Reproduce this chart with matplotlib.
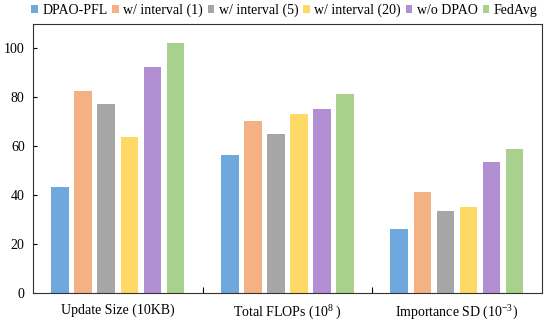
import matplotlib
matplotlib.use("Agg")
import matplotlib.pyplot as plt
import numpy as np
from matplotlib import rcParams

rcParams["font.family"] = ["Liberation Serif", "DejaVu Serif"]
rcParams["mathtext.fontset"] = "custom"
rcParams["mathtext.rm"] = "Liberation Serif"
rcParams["mathtext.it"] = "Liberation Serif:italic"
rcParams["font.size"] = 10

categories = ["Update Size (10KB)", "Total FLOPs (10$^{8}$ )", "Importance SD (10$^{-3}$)"]
methods = ["DPAO-PFL", "w/ interval (1)", "w/ interval (5)", "w/ interval (20)", "w/o DPAO", "FedAvg"]
colors = ["#6FA8DC", "#F4B183", "#A6A6A6", "#FFD966", "#B18FD2", "#A9D18E"]

dpao_pfl = [43.4, 56.2, 25.9]
interval_1 = [82.4, 70.1, 41.3]
interval_5 = [77.2, 65.0, 33.4]
interval_20 = [63.6, 73.1, 35.2]
wo_dpao = [92.4, 75.0, 53.6]
fedavg = [102.3, 81.3, 58.8]
series = [dpao_pfl, interval_1, interval_5, interval_20, wo_dpao, fedavg]

fig = plt.figure(figsize=(5.5, 3.24), dpi=100)
ax = fig.add_axes([0.06, 0.097, 0.925, 0.829])

x = np.arange(len(categories))
step = 0.136
width = 0.104
for i, (vals, name, col) in enumerate(zip(series, methods, colors)):
    ax.bar(x + (i - 2.5) * step, vals, width, color=col, label=name)

ax.set_xlim(-0.5, 2.5)
ax.set_ylim(0, 110)
ax.set_yticks([0, 20, 40, 60, 80, 100])

# group separators as inward ticks, labels at group centres
ax.set_xticks([0.5, 1.5])
ax.set_xticklabels([])
ax.set_xticks(x, minor=True)
ax.set_xticklabels(categories, minor=True)
ax.tick_params(axis="x", which="major", direction="in", length=4, width=0.8)
ax.tick_params(axis="x", which="minor", length=0, pad=8)
ax.tick_params(axis="y", direction="in", length=3, width=0.8, pad=6)

for s in ax.spines.values():
    s.set_linewidth(0.8)
    s.set_color("#333333")

fig.legend(*ax.get_legend_handles_labels(), loc="center",
           bbox_to_anchor=(0.517, 0.968), ncol=6, frameon=False,
           handlelength=0.45, handleheight=0.45, handletextpad=0.34,
           columnspacing=0.35, borderaxespad=0, borderpad=0)

fig.savefig("out.png", dpi=100)
